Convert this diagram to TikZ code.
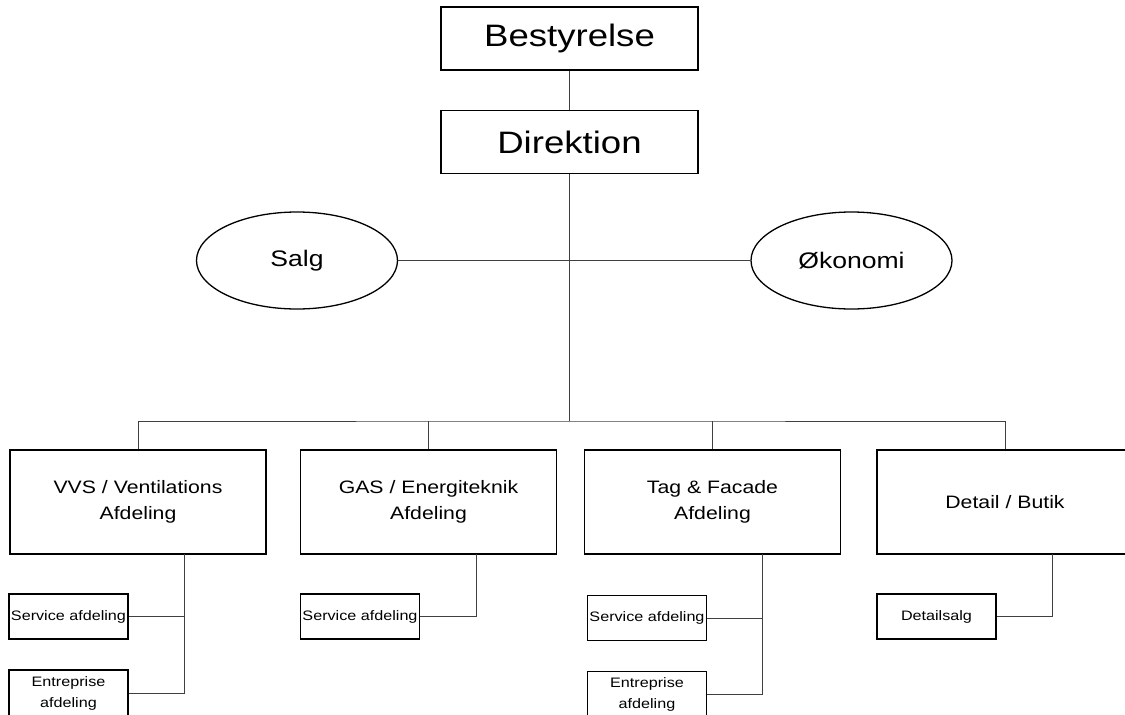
\documentclass[tikz,border=0pt]{standalone}
\usepackage{fontspec}
\setmainfont{Liberation Sans}[FakeStretch=1.18]
\usetikzlibrary{shapes.geometric}
\begin{document}
\begin{tikzpicture}[x=1pt,y=-1pt,
  box/.style={draw=black,line width=1.5pt,rectangle,inner sep=0pt,align=center},
  topbox/.style={box,minimum width=257pt,minimum height=63pt,font=\fontsize{31}{37}\selectfont},
  dept/.style={box,minimum width=256pt,minimum height=104pt,font=\fontsize{18}{26}\selectfont},
  small/.style={box,minimum width=119pt,minimum height=45pt,font=\fontsize{13.7}{21}\selectfont},
  oval/.style={draw=black,line width=1.3pt,ellipse,inner sep=0pt,minimum width=201pt,minimum height=97pt,font=\fontsize{22.5}{27}\selectfont},
  conn/.style={draw=black!75,line width=1pt}]
\useasboundingbox (0,0) rectangle (1125,715);
% top
\node[topbox] (best) at (569.5,38.5) {Bestyrelse};
\node[topbox] (dir) at (569.5,142) {Direktion};
\node[oval] (salg) at (297,260.5) {Salg};
\node[oval] (oko) at (851.5,260.5) {Økonomi};
% departments
\node[dept] (vvs) at (138,502) {VVS / Ventilations\\Afdeling};
\node[dept] (gas) at (428.5,502) {GAS / Energiteknik\\Afdeling};
\node[dept] (tag) at (712.5,502) {Tag \& Facade\\Afdeling};
\node[dept] (det) at (1005,502) {Detail / Butik};
% sub units
\node[small] (vvssvc) at (68.5,616.5) {Service afdeling};
\node[small,minimum height=46pt] (vvsent) at (68.5,693) {Entreprise\\afdeling};
\node[small] (gassvc) at (360,616.5) {Service afdeling};
\node[small] (tagsvc) at (647,618) {Service afdeling};
\node[small,minimum height=46pt] (tagent) at (647,694.5) {Entreprise\\afdeling};
\node[small] (detsalg) at (936.5,616.5) {Detailsalg};
% junction coordinates
\coordinate (branch) at (569.5,421);
\coordinate (vvsx) at (184,554);
\coordinate (gasx) at (476,554);
\coordinate (tagx) at (762,554);
\coordinate (detx) at (1052,554);
% connectors
\draw[conn] (best) -- (dir);
\draw[conn] (dir) -- (branch);
\draw[conn] (salg) -- (oko);
\draw[conn] (vvs.north) |- (branch) -| (det.north);
\draw[conn] (gas.north) -- (gas.north |- branch);
\draw[conn] (tag.north) -- (tag.north |- branch);
\draw[conn] (vvsx) |- (vvsent.east);
\draw[conn] (vvssvc.east) -- (vvssvc.east -| vvsx);
\draw[conn] (gasx) |- (gassvc.east);
\draw[conn] (tagx) |- (tagent.east);
\draw[conn] (tagsvc.east) -- (tagsvc.east -| tagx);
\draw[conn] (detx) |- (detsalg.east);
\end{tikzpicture}
\end{document}
